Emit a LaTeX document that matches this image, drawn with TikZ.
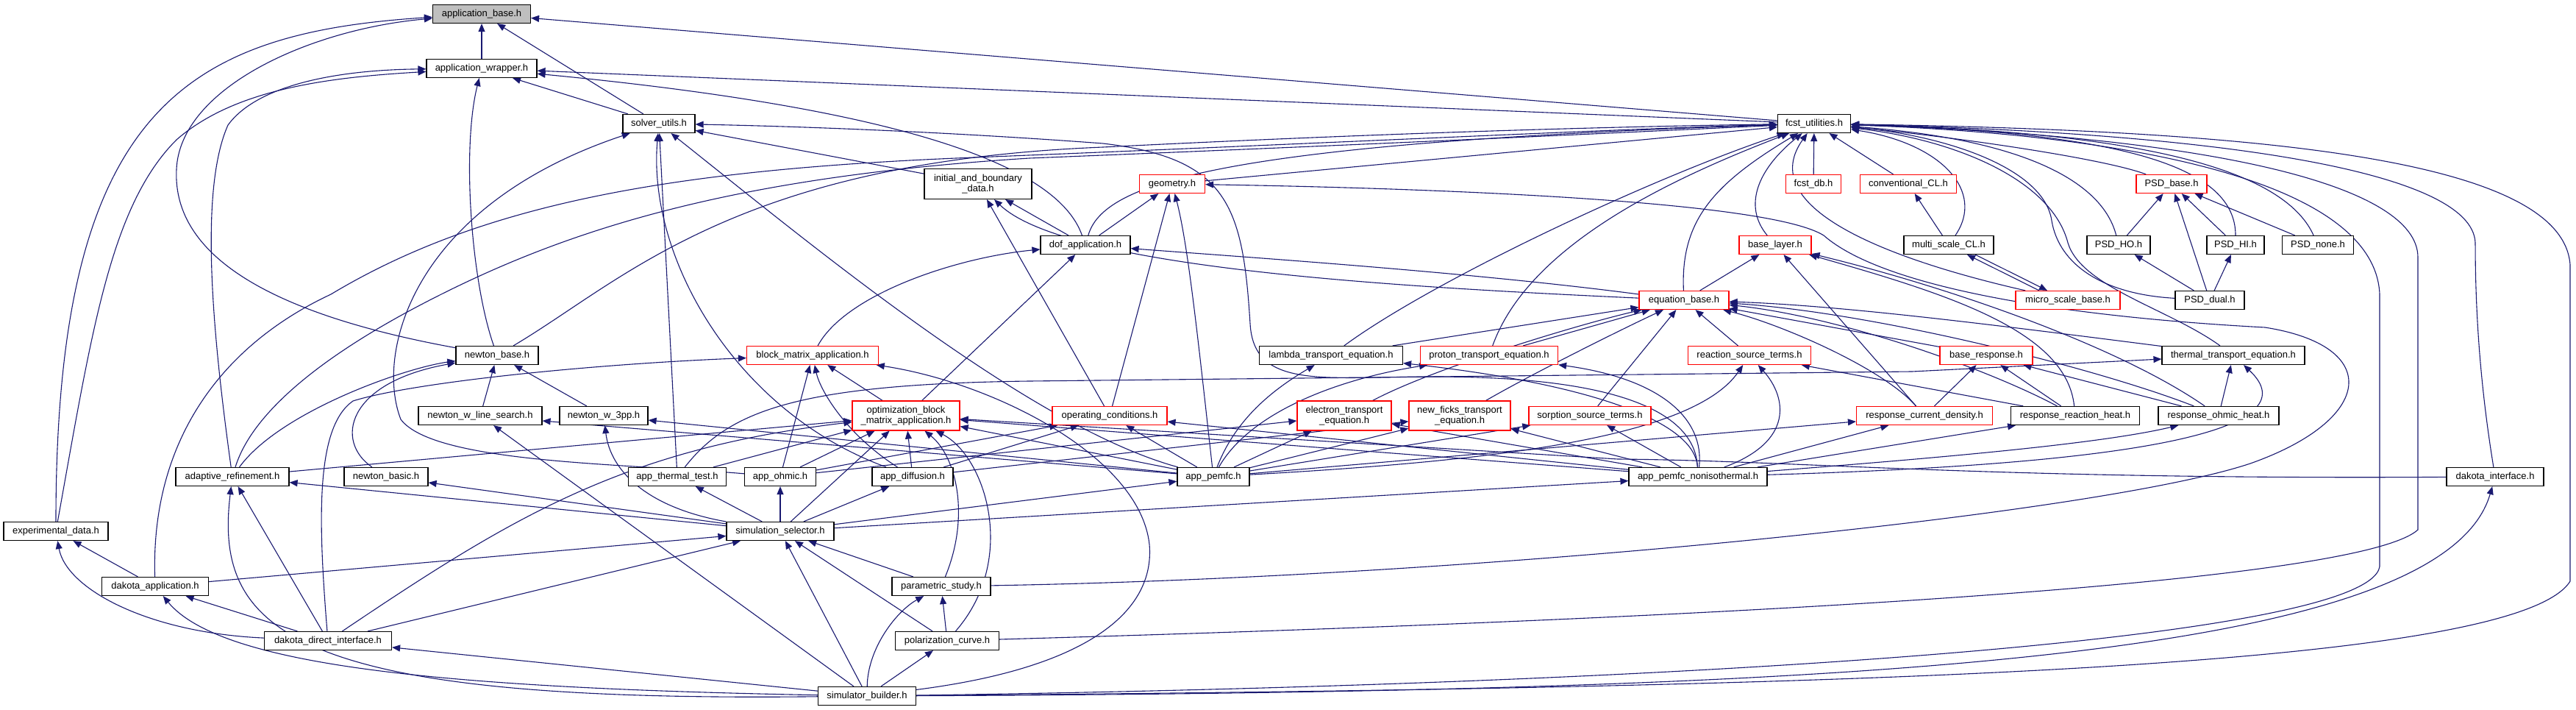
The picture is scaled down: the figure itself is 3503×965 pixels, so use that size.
\documentclass[tikz,border=0pt]{standalone}
\usepackage{fontspec}
\setmainfont{Liberation Sans}
\usetikzlibrary{arrows.meta}
\definecolor{edgeblue}{HTML}{191970}
\definecolor{rootgray}{HTML}{BFBFBF}
\pgfdeclarelayer{bg}
\pgfsetlayers{bg,main}
\newcommand\nfont{\fontsize{13}{14.5}\selectfont}
\begin{document}
\begin{tikzpicture}[x=1pt,y=-1pt,
  nd/.style={draw=black, line width=1.2pt, fill=white, minimum height=25pt, inner sep=2pt, font=\nfont},
  rd/.style={nd, draw=red},
  e/.style={draw=edgeblue, line width=1.1pt, -{Triangle[length=11pt,width=9pt]}}]
\useasboundingbox (0,0) rectangle (3503,965);
% nodes
\node[nd,fill=rootgray,minimum width=133pt] (AB) at (655,19) {application\_base.h};
\node[nd,minimum width=150pt] (AW) at (655,93) {application\_wrapper.h};
\node[nd,minimum width=98pt] (SU) at (896,168) {solver\_utils.h};
\node[nd,minimum width=99pt] (FU) at (2467,168) {fcst\_utilities.h};
\node[nd,minimum width=146pt,minimum height=41pt,align=center] (IB) at (1330,250) {initial\_and\_boundary\\\_data.h};
\node[rd,minimum width=89pt] (GE) at (1594,250) {geometry.h};
\node[rd,minimum width=75pt] (FD) at (2466,250) {fcst\_db.h};
\node[rd,minimum width=131pt] (CC) at (2595,250) {conventional\_CL.h};
\node[rd,minimum width=96pt] (PB) at (2953,250) {PSD\_base.h};
\node[nd,minimum width=122pt] (DA) at (1476,333) {dof\_application.h};
\node[rd,minimum width=98pt] (BL) at (2414,333) {base\_layer.h};
\node[nd,minimum width=122pt] (MS) at (2650,333) {multi\_scale\_CL.h};
\node[nd,minimum width=86pt] (PHO) at (2881,333) {PSD\_HO.h};
\node[nd,minimum width=78pt] (PHI) at (3040,333) {PSD\_HI.h};
\node[nd,minimum width=97pt] (PN) at (3152,333) {PSD\_none.h};
\node[rd,minimum width=122pt] (EB) at (2290,408) {equation\_base.h};
\node[rd,minimum width=142pt] (MSB) at (2812,408) {micro\_scale\_base.h};
\node[nd,minimum width=94pt] (PD) at (3005,408) {PSD\_dual.h};
\node[nd,minimum width=112pt] (NB) at (676,483) {newton\_base.h};
\node[rd,minimum width=179pt] (BM) at (1105,483) {block\_matrix\_application.h};
\node[nd,minimum width=195pt] (LT) at (1810,483) {lambda\_transport\_equation.h};
\node[rd,minimum width=187pt] (PT) at (2025,483) {proton\_transport\_equation.h};
\node[rd,minimum width=167pt] (RS) at (2379,483) {reaction\_source\_terms.h};
\node[rd,minimum width=126pt] (BR) at (2701,483) {base\_response.h};
\node[nd,minimum width=194pt] (TT) at (3037,483) {thermal\_transport\_equation.h};
\node[nd,minimum width=168pt] (NWL) at (653,565) {newton\_w\_line\_search.h};
\node[nd,minimum width=120pt] (NW3) at (821,565) {newton\_w\_3pp.h};
\node[rd,minimum width=146pt,minimum height=40pt,align=center] (OB) at (1232,565) {optimization\_block\\\_matrix\_application.h};
\node[rd,minimum width=156pt] (OC) at (1509,565) {operating\_conditions.h};
\node[rd,minimum width=128pt,minimum height=40pt,align=center] (ET) at (1828,565) {electron\_transport\\\_equation.h};
\node[rd,minimum width=138pt,minimum height=40pt,align=center] (NF) at (1985,565) {new\_ficks\_transport\\\_equation.h};
\node[rd,minimum width=166pt] (SS) at (2162,565) {sorption\_source\_terms.h};
\node[rd,minimum width=185pt] (RCD) at (2617,565) {response\_current\_density.h};
\node[nd,minimum width=175pt] (RRH) at (2822,565) {response\_reaction\_heat.h};
\node[nd,minimum width=164pt] (ROH) at (3017,565) {response\_ohmic\_heat.h};
\node[nd,minimum width=154pt] (AR) at (316,648) {adaptive\_refinement.h};
\node[nd,minimum width=114pt] (NBA) at (525,648) {newton\_basic.h};
\node[nd,minimum width=133pt] (ATT) at (921,648) {app\_thermal\_test.h};
\node[nd,minimum width=97pt] (AO) at (1061,648) {app\_ohmic.h};
\node[nd,minimum width=110pt] (AD) at (1241,648) {app\_diffusion.h};
\node[nd,minimum width=98pt] (AP) at (1650,648) {app\_pemfc.h};
\node[nd,minimum width=188pt] (APN) at (2309,648) {app\_pemfc\_nonisothermal.h};
\node[nd,minimum width=132pt] (DI) at (3393,648) {dakota\_interface.h};
\node[nd,minimum width=142pt] (ED) at (76,722) {experimental\_data.h};
\node[nd,minimum width=146pt] (SEL) at (1061,722) {simulation\_selector.h};
\node[nd,minimum width=145pt] (DAP) at (211,797) {dakota\_application.h};
\node[nd,minimum width=134pt] (PS) at (1280,797) {parametric\_study.h};
\node[nd,minimum width=173pt] (DDI) at (446,871) {dakota\_direct\_interface.h};
\node[nd,minimum width=141pt] (PC) at (1288,871) {polarization\_curve.h};
\node[nd,minimum width=133pt] (SB) at (1179,946) {simulator\_builder.h};
% edges
\begin{pgfonlayer}{bg}
% application_base
\draw[e] (AW) -- (AB);
\draw[e] (SU) -- (AB);
\draw[e] (FU) -- (AB);
\draw[e] (ED) .. controls (76,150) and (250,45) .. (AB);
\draw[e] (NB) .. controls (330,420) and (235,330) .. (240,230) .. controls (245,120) and (420,40) .. (AB);
% application_wrapper
\draw[e] (ED) .. controls (125,450) and (150,280) .. (240,190) .. controls (320,120) and (450,105) .. (AW);
\draw[e] (AR) .. controls (290,460) and (270,260) .. (310,170) .. controls (350,115) and (460,95) .. (AW);
\draw[e] (NB) .. controls (640,380) and (628,200) .. (AW);
\draw[e] (SU) -- (AW);
\draw[e] (FU) -- (AW);
\draw[e] (DA) .. controls (1440,230) and (1250,150) .. (AW);
% solver_utils
\draw[e] (ATT) -- (SU);
\draw[e] (AD) .. controls (1000,560) and (880,350) .. (SU);
\draw[e] (AP) .. controls (1400,580) and (1100,330) .. (SU);
\draw[e] (APN) .. controls (2305,560) and (2200,512) .. (1950,512) .. controls (1800,512) and (1705,530) .. (1700,440) .. controls (1690,280) and (1670,215) .. (1500,195) .. controls (1300,180) and (1100,172) .. (SU);
\draw[e] (IB) -- (SU);
\draw[e] (AO) .. controls (850,630) and (590,630) .. (545,570) .. controls (510,480) and (560,280) .. (SU);
% fcst_utilities
\draw[e] (NB) .. controls (850,380) and (1000,220) .. (1500,200) .. controls (1900,180) and (2200,172) .. (FU);
\draw[e] (DAP) .. controls (205,600) and (300,470) .. (450,400) .. controls (650,280) and (900,232) .. (1300,215) .. controls (1800,195) and (2200,175) .. (FU);
\draw[e] (AR) .. controls (340,570) and (420,490) .. (600,400) .. controls (780,310) and (1000,240) .. (1400,215) .. controls (1900,195) and (2250,178) .. (FU);
\draw[e] (DA) .. controls (1500,250) and (1650,195) .. (FU);
\draw[e] (GE) -- (FU);
\draw[e] (LT) .. controls (1950,380) and (2250,240) .. (FU);
\draw[e] (PT) .. controls (2080,330) and (2280,240) .. (FU);
\draw[e] (EB) .. controls (2285,300) and (2330,250) .. (FU);
\draw[e] (BL) .. controls (2370,280) and (2390,230) .. (FU);
\draw[e] (MSB) .. controls (2600,360) and (2380,290) .. (FU);
\draw[e] (FD) -- (FU);
\draw[e] (CC) -- (FU);
\draw[e] (MS) .. controls (2700,260) and (2640,195) .. (FU);
\draw[e] (PB) .. controls (2860,215) and (2650,185) .. (FU);
\draw[e] (PHO) .. controls (2860,250) and (2760,190) .. (FU);
\draw[e] (PHI) .. controls (3040,230) and (2900,180) .. (FU);
\draw[e] (PN) .. controls (3110,240) and (2950,180) .. (FU);
\draw[e] (PD) .. controls (2860,400) and (2800,360) .. (2790,300) .. controls (2780,230) and (2650,185) .. (FU);
\draw[e] (TT) .. controls (2950,420) and (2830,390) .. (2812,330) .. controls (2790,245) and (2660,190) .. (FU);
\draw[e] (PC) .. controls (2200,845) and (3200,800) .. (3288,720) -- (3288,350) .. controls (3288,250) and (3000,185) .. (FU);
\draw[e] (DI) .. controls (3372,520) and (3366,420) .. (3366,330) .. controls (3362,230) and (3000,180) .. (FU);
\draw[e] (SB) .. controls (2500,935) and (3420,910) .. (3495,790) -- (3495,360) .. controls (3485,220) and (3100,178) .. (FU);
\draw[e] (SB) .. controls (2300,930) and (3220,870) .. (3236,770) -- (3236,400) .. controls (3230,260) and (2950,185) .. (FU);
% top right cluster
\draw[e] (MS) -- (CC);
\draw[e] ([xshift=-39pt]MSB.north) -- ([xshift=25pt]MS.south);
\draw[e] ([xshift=36pt]MS.south) -- ([xshift=-28pt]MSB.north);
\draw[e] (PHO) -- (PB);
\draw[e] (PHI) -- (PB);
\draw[e] (PN) -- (PB);
\draw[e] (PD) -- (PHO);
\draw[e] (PD) -- (PHI);
\draw[e] (PD) -- (PB);
% geometry, dof, initial data
\draw[e] (PS) .. controls (2000,785) and (2850,700) .. (3060,630) .. controls (3230,570) and (3240,470) .. (3080,445) .. controls (2800,430) and (2560,390) .. (2480,320) .. controls (2400,270) and (1900,255) .. (GE);
\draw[e] (OC) -- (GE);
\draw[e] (AP) .. controls (1628,450) and (1615,330) .. (GE);
\draw[e] (DA) -- (GE);
\draw[e] (DA) -- (IB);
\draw[e] (OC) -- (IB);
\draw[e] (EB) .. controls (1900,390) and (1450,365) .. (IB);
\draw[e] (EB) .. controls (2000,370) and (1700,350) .. (DA);
\draw[e] (BM) .. controls (1150,400) and (1300,350) .. (DA);
\draw[e] (OB) -- (DA);
% base_layer
\draw[e] (EB) -- (BL);
\draw[e] (RCD) -- (BL);
\draw[e] (RRH) .. controls (2810,450) and (2650,400) .. (BL);
\draw[e] (ROH) .. controls (2880,470) and (2650,390) .. (BL);
% equation_base
\draw[e] (LT) -- (EB);
\draw[e] (PT) -- (EB);
\draw[e] (ET) .. controls (1950,500) and (2150,440) .. (EB);
\draw[e] (NF) .. controls (2080,510) and (2200,450) .. (EB);
\draw[e] (SS) -- (EB);
\draw[e] (RS) -- (EB);
\draw[e] (BR) -- (EB);
\draw[e] (TT) .. controls (2700,440) and (2500,415) .. (EB);
\draw[e] (RCD) .. controls (2560,500) and (2420,440) .. (EB);
\draw[e] (RRH) .. controls (2700,500) and (2500,430) .. (EB);
\draw[e] (ROH) .. controls (2850,500) and (2550,425) .. (EB);
% responses
\draw[e] (RCD) -- (BR);
\draw[e] (RRH) -- (BR);
\draw[e] (ROH) -- (BR);
\draw[e] (ROH) -- (TT);
\draw[e] (RRH) -- (RS);
% app_pemfc
\draw[e] (AP) .. controls (2000,628) and (2300,600) .. (RS);
\draw[e] (AP) .. controls (1680,570) and (1730,530) .. (LT);
\draw[e] (AP) .. controls (1700,560) and (1820,515) .. (PT);
\draw[e] (AP) -- (ET);
\draw[e] (AP) -- (NF);
\draw[e] (AP) -- (SS);
\draw[e] (AP) -- (RCD);
\draw[e] (AP) -- (OC);
\draw[e] (AP) -- (OB);
\draw[e] (AP) -- (NWL);
\draw[e] (AP) -- (NW3);
% app_pemfc_nonisothermal
\draw[e] (APN) -- (OC);
\draw[e] (APN) -- (OB);
\draw[e] (APN) .. controls (2440,600) and (2430,540) .. (RS);
\draw[e] (APN) .. controls (2305,570) and (2150,520) .. (LT);
\draw[e] (APN) .. controls (2318,570) and (2260,515) .. (PT);
\draw[e] (APN) -- (ET);
\draw[e] (APN) -- (NF);
\draw[e] (APN) -- (SS);
\draw[e] (APN) -- (RCD);
\draw[e] (APN) -- (RRH);
\draw[e] (APN) .. controls (2600,625) and (2850,605) .. (ROH);
\draw[e] (APN) .. controls (3000,628) and (3130,570) .. (TT);
% other applications
\draw[e] (ATT) .. controls (990,560) and (1080,522) .. (1400,518) -- (2600,505) -- ([yshift=-5pt]TT.west);
\draw[e] (ATT) -- (OB);
\draw[e] (AO) -- (BM);
\draw[e] (AO) -- (OB);
\draw[e] (AO) -- (OC);
\draw[e] (AO) -- (ET);
\draw[e] (AD) .. controls (1150,590) and (1115,530) .. (BM);
\draw[e] (AD) -- (OB);
\draw[e] (AD) -- (OC);
\draw[e] (AD) -- (NF);
% simulation_selector
\draw[e] (SEL) -- (AO);
\draw[e] (SEL) -- (AD);
\draw[e] (SEL) -- (AP);
\draw[e] (SEL) -- (APN);
\draw[e] (SEL) -- (OB);
\draw[e] (SEL) -- (ATT);
\draw[e] (SEL) -- (AR);
\draw[e] (SEL) -- (NBA);
\draw[e] (SEL) .. controls (880,690) and (830,640) .. (NW3);
\draw[e] (DAP) -- (SEL);
\draw[e] (DDI) -- (SEL);
\draw[e] (SB) -- (SEL);
\draw[e] (PC) -- (SEL);
\draw[e] (PS) -- (SEL);
% parametric, polarization
\draw[e] (PS) .. controls (1320,700) and (1300,620) .. (OB);
\draw[e] (PC) .. controls (1385,760) and (1340,620) .. (OB);
\draw[e] (PC) -- (PS);
% simulator_builder
\draw[e] (SB) .. controls (1180,880) and (1220,830) .. (PS);
\draw[e] (SB) -- (PC);
\draw[e] (SB) .. controls (1500,905) and (1570,820) .. (1563,740) .. controls (1550,620) and (1350,520) .. (BM);
\draw[e] (SB) -- (DDI);
\draw[e] (SB) .. controls (600,935) and (300,905) .. (DAP);
\draw[e] (SB) .. controls (400,955) and (290,860) .. (AR);
\draw[e] (SB) -- (NWL);
\draw[e] (SB) .. controls (2500,940) and (3320,900) .. (DI);
% dakota
\draw[e] (DDI) .. controls (200,860) and (90,800) .. (ED);
\draw[e] (DDI) -- (DAP);
\draw[e] (DDI) -- (AR);
\draw[e] (DDI) .. controls (432,700) and (430,580) .. (480,545) .. controls (560,520) and (800,495) .. (BM);
\draw[e] (DDI) .. controls (700,700) and (850,610) .. (OB);
\draw[e] (DAP) -- (ED);
\draw[e] (DI) .. controls (2700,652) and (2450,626) .. (2200,624) -- (OB);
% newton family
\draw[e] (AR) .. controls (380,560) and (550,500) .. (NB);
\draw[e] (AR) -- (OB);
\draw[e] (NBA) .. controls (455,600) and (470,520) .. (NB);
\draw[e] (NWL) -- (NB);
\draw[e] (NW3) -- (NB);
\draw[e] (OB) -- (BM);
\end{pgfonlayer}
\end{tikzpicture}
\end{document}
